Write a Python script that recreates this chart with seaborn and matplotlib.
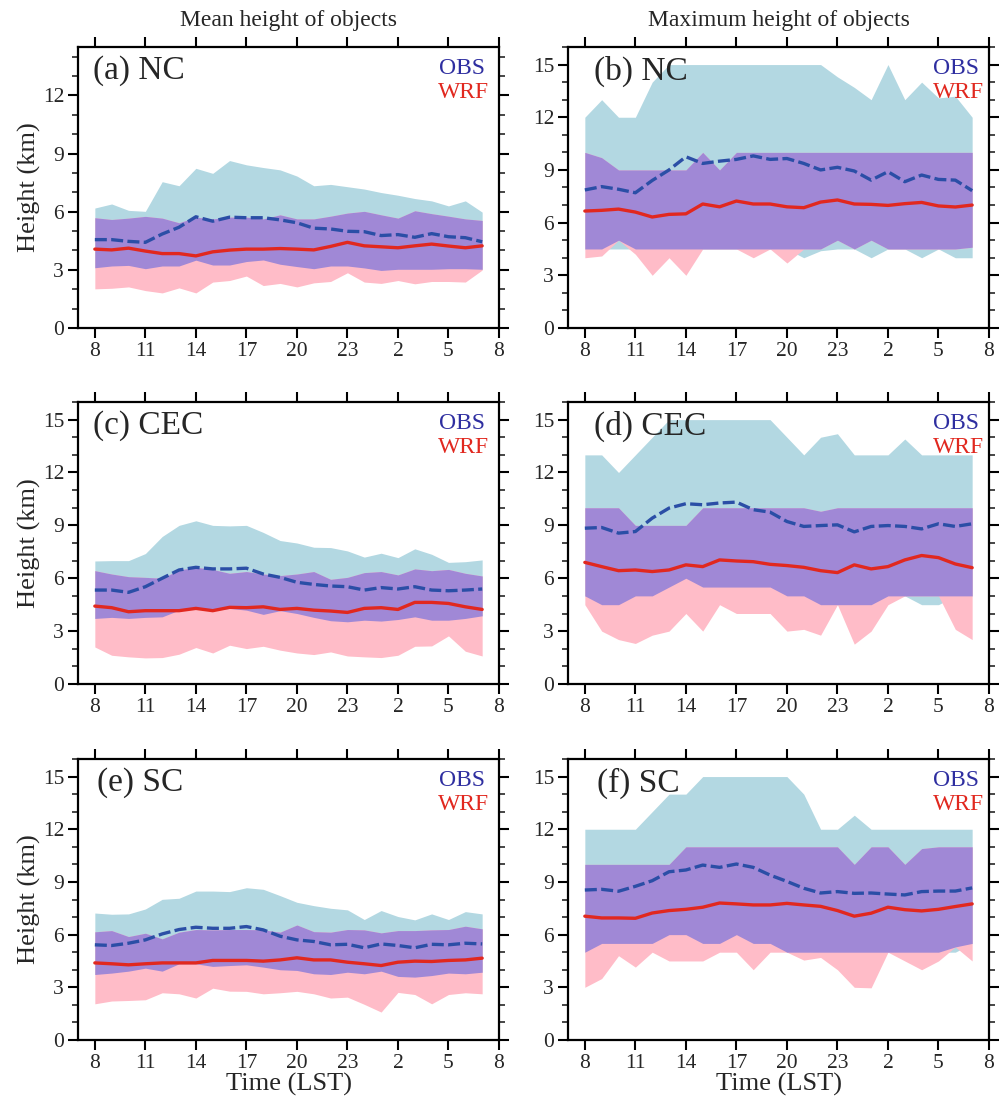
import numpy as np
import pandas as pd
import matplotlib
matplotlib.use("Agg")
import matplotlib.pyplot as plt
import seaborn as sns
from matplotlib.ticker import MultipleLocator, FixedLocator

# ---------------- data ----------------
hours = [8, 9, 10, 11, 12, 13, 14, 15, 16, 17, 18, 19, 20, 21, 22, 23,
         24, 25, 26, 27, 28, 29, 30, 31]
tick_pos = [8, 11, 14, 17, 20, 23, 26, 29, 32]
tick_lab = ["8", "11", "14", "17", "20", "23", "2", "5", "8"]
col_titles = ["Mean height of objects", "Maximum height of objects"]
panel_names = ["(a) NC", "(b) NC", "(c) CEC", "(d) CEC", "(e) SC", "(f) SC"]

# (a) NC mean height
a_obs_hi = [6.19, 6.40, 6.07, 6.02, 7.55, 7.34, 8.24, 7.98, 8.64, 8.42, 8.28, 8.16,
            7.84, 7.34, 7.41, 7.29, 7.17, 6.99, 6.85, 6.68, 6.56, 6.30, 6.56, 5.98]
a_obs_lo = [3.11, 3.20, 3.23, 3.06, 3.20, 3.20, 3.50, 3.25, 3.25, 3.43, 3.51, 3.29,
            3.17, 3.06, 3.20, 3.20, 3.10, 2.97, 3.03, 3.03, 3.03, 3.06, 3.06, 3.03]
a_wrf_hi = [5.69, 5.60, 5.67, 5.76, 5.67, 5.43, 5.72, 5.63, 5.72, 5.72, 5.63, 5.84,
            5.63, 5.63, 5.77, 5.93, 6.02, 5.84, 5.67, 6.05, 5.90, 5.77, 5.63, 5.55]
a_wrf_lo = [2.02, 2.05, 2.12, 1.93, 1.81, 2.07, 1.81, 2.37, 2.45, 2.68, 2.19, 2.30,
            2.12, 2.33, 2.40, 2.85, 2.37, 2.30, 2.45, 2.28, 2.40, 2.40, 2.37, 2.99]
a_obs = [4.56, 4.56, 4.47, 4.42, 4.85, 5.20, 5.74, 5.51, 5.72, 5.69, 5.69, 5.58,
         5.43, 5.15, 5.11, 4.99, 4.97, 4.77, 4.82, 4.68, 4.87, 4.71, 4.66, 4.45]
a_wrf = [4.07, 4.03, 4.12, 3.97, 3.84, 3.84, 3.72, 3.93, 4.02, 4.07, 4.07, 4.10,
         4.07, 4.03, 4.21, 4.42, 4.24, 4.19, 4.14, 4.24, 4.33, 4.23, 4.14, 4.24]

# (b) NC maximum height
b_obs_hi = [12, 13, 12, 12, 14, 15, 15, 15, 15, 15, 15, 15,
            15, 15, 15, 14.3, 13.7, 13, 15, 13, 14, 13.1, 13.2, 12]
b_obs_lo = [4.5, 4.5, 4.5, 4.5, 4.5, 4.5, 4.5, 4.5, 4.5, 4.5, 4.5, 4.5,
            4.5, 4.0, 4.4, 4.5, 4.5, 4.0, 4.5, 4.5, 4.0, 4.5, 4.0, 4.0]
b_wrf_hi = [10, 9.7, 9, 9, 9, 9, 9, 10, 9, 10, 10, 10,
            10, 10, 10, 10, 10, 10, 10, 10, 10, 10, 10, 10]
b_wrf_lo = [4.0, 4.1, 5.0, 4.2, 3.0, 4.0, 3.0, 4.5, 4.5, 4.5, 4.0, 4.5,
            3.7, 4.5, 4.5, 5.0, 4.5, 5.0, 4.5, 4.5, 4.5, 4.5, 4.5, 4.6]
b_obs = [7.86, 8.05, 7.90, 7.70, 8.40, 9.00, 9.75, 9.37, 9.50, 9.60, 9.80, 9.60,
         9.65, 9.37, 9.00, 9.15, 8.94, 8.42, 8.90, 8.33, 8.71, 8.46, 8.42, 7.82]
b_wrf = [6.66, 6.70, 6.77, 6.60, 6.32, 6.47, 6.50, 7.06, 6.90, 7.23, 7.06, 7.06,
         6.90, 6.85, 7.17, 7.29, 7.06, 7.04, 6.98, 7.08, 7.15, 6.95, 6.89, 7.00]

# (c) CEC mean height
c_obs_hi = [6.98, 7.00, 7.00, 7.40, 8.37, 9.00, 9.26, 9.00, 8.97, 9.00, 8.60, 8.14,
            8.00, 7.76, 7.74, 7.55, 7.20, 7.42, 7.17, 7.67, 7.36, 6.90, 6.94, 7.04]
c_obs_lo = [3.72, 3.78, 3.72, 3.78, 3.81, 4.19, 4.29, 4.16, 4.29, 4.19, 3.95, 4.16,
            4.00, 3.78, 3.59, 3.53, 3.62, 3.57, 3.66, 3.81, 3.62, 3.62, 3.72, 3.87]
c_wrf_hi = [6.43, 6.24, 6.09, 6.05, 6.00, 6.47, 6.62, 6.50, 6.28, 6.38, 6.24, 6.15,
            6.24, 6.38, 5.94, 6.05, 6.32, 6.38, 6.19, 6.53, 6.43, 6.50, 6.28, 6.13]
c_wrf_lo = [2.10, 1.63, 1.54, 1.48, 1.50, 1.69, 2.07, 1.76, 2.20, 2.01, 2.14, 1.92,
            1.76, 1.67, 1.82, 1.59, 1.54, 1.50, 1.63, 2.14, 2.16, 2.73, 1.86, 1.59]
c_obs = [5.33, 5.33, 5.20, 5.52, 6.00, 6.47, 6.62, 6.53, 6.53, 6.57, 6.24, 6.05,
         5.77, 5.65, 5.56, 5.52, 5.33, 5.47, 5.39, 5.52, 5.33, 5.29, 5.33, 5.39]
c_wrf = [4.42, 4.33, 4.10, 4.16, 4.16, 4.16, 4.29, 4.16, 4.35, 4.33, 4.38, 4.23,
         4.29, 4.19, 4.14, 4.06, 4.29, 4.33, 4.23, 4.63, 4.63, 4.57, 4.38, 4.23]

# (d) CEC maximum height
d_obs_hi = [13, 13, 12, 13, 14, 15, 15, 15, 15, 15, 15, 15,
            14, 13, 14, 14.2, 13, 13, 13, 13.9, 13, 13, 13, 13]
d_obs_lo = [5.0, 4.5, 4.5, 5.0, 5.0, 5.5, 6.0, 5.5, 5.5, 5.5, 5.5, 5.5,
            5.0, 5.0, 4.5, 4.5, 4.5, 4.5, 5.0, 5.0, 4.5, 4.5, 5.0, 5.0]
d_wrf_hi = [10, 10, 10, 9, 9, 9, 9, 10, 10, 10, 10, 10,
            10, 10, 9.8, 10, 10, 10, 10, 10, 10, 10, 10, 10]
d_wrf_lo = [4.5, 3.0, 2.52, 2.3, 2.77, 3.0, 4.0, 3.0, 4.5, 4.0, 4.0, 4.0,
            3.0, 3.1, 2.77, 4.5, 2.26, 3.0, 4.5, 5.0, 5.0, 5.0, 3.1, 2.52]
d_obs = [8.84, 8.88, 8.56, 8.65, 9.41, 9.98, 10.23, 10.17, 10.27, 10.32, 9.89, 9.75,
         9.22, 8.94, 8.99, 9.03, 8.63, 8.94, 8.99, 8.94, 8.80, 9.09, 8.94, 9.09]
d_wrf = [6.90, 6.66, 6.43, 6.47, 6.38, 6.47, 6.76, 6.66, 7.04, 6.98, 6.94, 6.79,
         6.72, 6.62, 6.43, 6.32, 6.76, 6.53, 6.66, 7.04, 7.29, 7.17, 6.81, 6.60]

# (e) SC mean height
e_obs_hi = [7.23, 7.16, 7.18, 7.46, 8.01, 8.07, 8.48, 8.48, 8.45, 8.67, 8.58, 8.22,
            7.84, 7.65, 7.50, 7.41, 6.86, 7.37, 7.03, 6.84, 7.18, 6.86, 7.31, 7.18]
e_obs_lo = [3.73, 3.81, 3.92, 4.09, 3.92, 4.34, 4.34, 4.19, 4.24, 4.28, 4.15, 4.00,
            3.96, 3.77, 3.73, 3.86, 3.77, 3.92, 3.62, 3.58, 3.67, 3.81, 3.77, 3.86]
e_wrf_hi = [6.16, 6.23, 5.89, 6.08, 5.76, 6.14, 6.29, 6.27, 6.29, 6.29, 6.27, 6.14,
            6.55, 6.17, 6.14, 6.29, 6.27, 6.10, 6.23, 6.23, 6.27, 6.29, 6.48, 6.33]
e_wrf_lo = [2.06, 2.22, 2.25, 2.29, 2.69, 2.63, 2.39, 2.95, 2.78, 2.77, 2.63, 2.69,
            2.77, 2.63, 2.39, 2.44, 2.03, 1.59, 2.71, 2.59, 2.06, 2.59, 2.69, 2.63]
e_obs = [5.42, 5.38, 5.51, 5.70, 6.04, 6.29, 6.42, 6.36, 6.36, 6.46, 6.27, 5.91,
         5.70, 5.61, 5.42, 5.45, 5.25, 5.47, 5.38, 5.25, 5.45, 5.42, 5.51, 5.47]
e_wrf = [4.39, 4.34, 4.28, 4.34, 4.39, 4.39, 4.39, 4.53, 4.53, 4.53, 4.49, 4.56,
         4.68, 4.56, 4.56, 4.43, 4.34, 4.24, 4.43, 4.49, 4.47, 4.53, 4.56, 4.66]

# (f) SC maximum height
f_obs_hi = [12, 12, 12, 12, 13, 14, 14, 15, 15, 15, 15, 15,
            15, 14, 12, 12, 12.8, 12, 12, 12, 12, 12, 12, 12]
f_obs_lo = [5.0, 5.5, 5.5, 5.5, 5.5, 6.0, 6.0, 5.5, 5.5, 6.0, 5.5, 5.5,
            5.0, 5.0, 5.0, 5.0, 5.0, 5.0, 5.0, 5.0, 5.0, 5.0, 5.0, 5.5]
f_wrf_hi = [10, 10, 10, 10, 10, 10, 11, 11, 11, 11, 11, 11,
            11, 11, 11, 11, 10, 11, 11, 10, 10.9, 11, 11, 11]
f_wrf_lo = [3.0, 3.5, 4.8, 4.15, 5.0, 4.5, 4.5, 4.5, 5.0, 5.0, 4.0, 5.0,
            5.0, 4.55, 4.7, 4.0, 3.0, 2.97, 5.0, 4.5, 4.0, 4.5, 5.3, 4.5]
f_obs = [8.54, 8.58, 8.47, 8.75, 9.07, 9.58, 9.68, 9.96, 9.83, 10.02, 9.83, 9.39,
         9.03, 8.64, 8.37, 8.45, 8.35, 8.37, 8.31, 8.26, 8.45, 8.48, 8.48, 8.66]
f_wrf = [7.05, 6.95, 6.95, 6.93, 7.23, 7.37, 7.44, 7.56, 7.80, 7.75, 7.69, 7.69,
         7.78, 7.69, 7.61, 7.37, 7.05, 7.22, 7.56, 7.42, 7.35, 7.44, 7.60, 7.75]

panels = [
    (a_obs_hi, a_obs_lo, a_wrf_hi, a_wrf_lo, a_obs, a_wrf),
    (b_obs_hi, b_obs_lo, b_wrf_hi, b_wrf_lo, b_obs, b_wrf),
    (c_obs_hi, c_obs_lo, c_wrf_hi, c_wrf_lo, c_obs, c_wrf),
    (d_obs_hi, d_obs_lo, d_wrf_hi, d_wrf_lo, d_obs, d_wrf),
    (e_obs_hi, e_obs_lo, e_wrf_hi, e_wrf_lo, e_obs, e_wrf),
    (f_obs_hi, f_obs_lo, f_wrf_hi, f_wrf_lo, f_obs, f_wrf),
]

# ---------------- style ----------------
sns.set_theme(style="white")
plt.rcParams["font.family"] = ["Liberation Serif", "DejaVu Serif"]
plt.rcParams["axes.linewidth"] = 1.6

C_OBS_BAND = "#b3d8e2"
C_WRF_BAND = "#ffbcc8"
C_OVER = "#a088d6"
C_OBS_LINE = "#2b4ea6"
C_WRF_LINE = "#e1281f"
C_OBS_TXT = "#2e2ea0"

W, H = 1006, 1103
fig = plt.figure(figsize=(W / 100, H / 100), dpi=100)

lefts = [78, 568]
rows = [(47, 328), (402, 684), (759, 1040)]
label_x = [0.035, 0.062, 0.035, 0.062, 0.045, 0.068]

for k, (ohi, olo, whi, wlo, om, wm) in enumerate(panels):
    r, c = divmod(k, 2)
    top, bot = rows[r]
    ax = fig.add_axes([lefts[c] / W, 1 - bot / H, 421 / W, (bot - top) / H])
    x = np.array(hours, dtype=float)
    ohi, olo, whi, wlo = map(np.asarray, (ohi, olo, whi, wlo))
    ax.fill_between(x, olo, ohi, color=C_OBS_BAND, lw=0, zorder=1)
    ax.fill_between(x, wlo, whi, color=C_WRF_BAND, lw=0, zorder=2)
    lo = np.maximum(olo, wlo)
    hi = np.minimum(ohi, whi)
    ax.fill_between(x, lo, hi, where=hi >= lo, interpolate=True,
                    color=C_OVER, lw=0, zorder=3)
    df = pd.DataFrame({"hour": hours, "obs": om, "wrf": wm})
    sns.lineplot(data=df, x="hour", y="obs", ax=ax, color=C_OBS_LINE, lw=2.4,
                 linestyle=(0, (3.6, 1.3)), zorder=5)
    sns.lineplot(data=df, x="hour", y="wrf", ax=ax, color=C_WRF_LINE, lw=2.4,
                 zorder=6)

    ax.set_xlim(7, 32)
    ax.set_ylim(0, 14.5 if k == 0 else 16)
    ax.xaxis.set_major_locator(FixedLocator(tick_pos))
    ax.set_xticklabels(tick_lab)
    ax.yaxis.set_major_locator(MultipleLocator(3))
    ax.yaxis.set_minor_locator(MultipleLocator(1))
    if k == 0:
        ax.set_yticks([0, 3, 6, 9, 12])
        ax.yaxis.set_minor_locator(MultipleLocator(1))
    ax.tick_params(axis="both", which="major", direction="out", length=7,
                   width=1.5, labelsize=15.5, color="black", pad=3,
                   top=True, right=True, bottom=True, left=True,
                   labeltop=False, labelright=False)
    ax.tick_params(axis="y", which="minor", direction="out", length=4,
                   width=1.2, left=True, right=True)
    for sp in ax.spines.values():
        sp.set_color("black")
        sp.set_linewidth(1.6)

    ax.set_xlabel("Time (LST)" if r == 2 else "", fontsize=19, labelpad=0)
    ax.set_ylabel("Height (km)" if c == 0 else "", fontsize=19, labelpad=1.5)

    ax.text(label_x[k], 0.915, panel_names[k], transform=ax.transAxes,
            fontsize=24, ha="left", va="center")
    ox = 0.967 if c == 0 else 0.976
    wx = 0.976 if c == 0 else 0.988
    ax.text(ox, 0.922, "OBS", transform=ax.transAxes, fontsize=17,
            color=C_OBS_TXT, ha="right", va="center")
    ax.text(wx, 0.837, "WRF", transform=ax.transAxes, fontsize=17,
            color=C_WRF_LINE, ha="right", va="center")
    if r == 0:
        ax.text(0.5, 1.096, col_titles[c], transform=ax.transAxes,
                fontsize=17, ha="center", va="center")

fig.savefig("out.png", dpi=100)
